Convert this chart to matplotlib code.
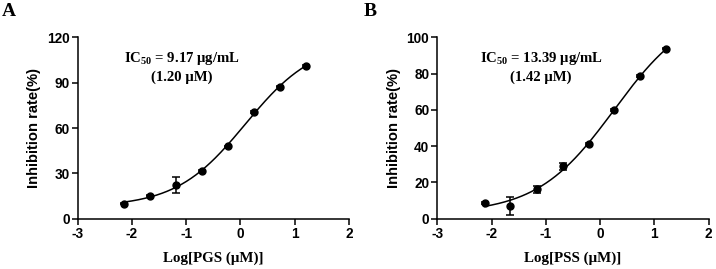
import numpy as np
import matplotlib
matplotlib.use("Agg")
import matplotlib.pyplot as plt

# ---------------- data ----------------
x_pgs = [-2.14, -1.67, -1.19, -0.71, -0.23, 0.25, 0.72, 1.20]
y_pgs = [9.9, 15.2, 22.0, 31.5, 47.9, 70.6, 87.4, 101.0]
e_pgs = [0.5, 0.5, 5.3, 0.6, 0.5, 0.6, 0.6, 0.5]

x_pss = [-2.13, -1.66, -1.17, -0.69, -0.21, 0.26, 0.74, 1.22]
y_pss = [8.8, 7.2, 16.2, 28.9, 41.0, 59.9, 78.7, 93.8]
e_pss = [0.5, 5.0, 2.0, 2.0, 0.5, 0.5, 0.5, 0.5]

xticks = [-3, -2, -1, 0, 1, 2]
yticks_a = [0, 30, 60, 90, 120]
yticks_b = [0, 20, 40, 60, 80, 100]

labels = ["A", "B"]
xlabels = ["Log[PGS (\u03bcM)]", "Log[PSS (\u03bcM)]"]
ic50_txt = ["IC$_{\\mathrm{50}}$ = 9.17 \u03bcg/mL", "IC$_{\\mathrm{50}}$ = 13.39 \u03bcg/mL"]
ic50_um = ["(1.20 \u03bcM)", "(1.42 \u03bcM)"]

# ---------------- style ----------------
plt.rcParams["mathtext.fontset"] = "custom"
plt.rcParams["mathtext.rm"] = "Liberation Serif:bold"
plt.rcParams["mathtext.it"] = "Liberation Serif:bold"
plt.rcParams["mathtext.bf"] = "Liberation Serif:bold"

SANS = "Liberation Sans"
SERIF = "Liberation Serif"


def fit_4pl(x, y):
    x = np.asarray(x, float)
    y = np.asarray(y, float)
    best = None
    for c in np.linspace(-1.5, 2.0, 351):
        for h in np.linspace(0.3, 2.0, 171):
            s = 1.0 / (1.0 + 10 ** ((c - x) * h))
            A = np.column_stack([1 - s, s])
            coef, *_ = np.linalg.lstsq(A, y, rcond=None)
            r = np.sum((A @ coef - y) ** 2)
            if best is None or r < best[0]:
                best = (r, c, h, coef)
    _, c, h, coef = best

    def f(xx):
        s = 1.0 / (1.0 + 10 ** ((c - xx) * h))
        return coef[0] * (1 - s) + coef[1] * s
    return f


fig = plt.figure(figsize=(7.16, 2.69), dpi=100)

positions = [
    [77.7 / 716, 1 - 218.7 / 269, (349 - 77.7) / 716, (218.7 - 37.3) / 269],
    [437.3 / 716, 1 - 218.7 / 269, (708.7 - 437.3) / 716, (218.7 - 37.3) / 269],
]
datasets = [(x_pgs, y_pgs, e_pgs, yticks_a), (x_pss, y_pss, e_pss, yticks_b)]
letter_x = [2 / 716, 364 / 716]

for i, (xs, ys, es, yt) in enumerate(datasets):
    ax = fig.add_axes(positions[i])
    f = fit_4pl(xs, ys)
    xx = np.linspace(min(xs), max(xs), 300)
    ax.plot(xx, f(xx), color="black", lw=1.1, zorder=2)
    ax.errorbar(xs, ys, yerr=es, fmt="o", color="black", ms=5.0,
                elinewidth=1.1, capsize=2.8, capthick=1.1, zorder=3)
    ax.set_xlim(-3, 2)
    ax.set_ylim(yt[0], yt[-1])
    ax.set_xticks(xticks)
    ax.set_yticks(yt)
    ax.set_xticklabels([str(t) for t in xticks], fontfamily=SANS,
                       fontweight="bold", fontsize=9.8)
    ax.set_yticklabels([str(t) for t in yt], fontfamily=SANS,
                       fontweight="bold", fontsize=9.8)
    for s in ["top", "right"]:
        ax.spines[s].set_visible(False)
    for s in ["left", "bottom"]:
        ax.spines[s].set_linewidth(1.1)
    ax.tick_params(axis="both", direction="out", length=4.3, width=1.1, pad=1.5)
    ax.set_ylabel("Inhibition rate(%)", fontfamily=SANS, fontweight="bold",
                  fontsize=10.6, labelpad=4)
    ax.set_xlabel(xlabels[i], fontfamily=SERIF, fontweight="bold",
                  fontsize=10.8, labelpad=8)
    ax.text(0.383, 0.882, ic50_txt[i], transform=ax.transAxes,
            ha="center", va="center", fontfamily=SERIF, fontweight="bold",
            fontsize=10.6)
    ax.text(0.383, 0.781, ic50_um[i], transform=ax.transAxes,
            ha="center", va="center", fontfamily=SERIF, fontweight="bold",
            fontsize=10.6)
    fig.text(letter_x[i], 1 - 11.5 / 269, labels[i], fontfamily=SERIF,
             fontweight="bold", fontsize=14, ha="left", va="center")

fig.savefig("out.png", dpi=100)
